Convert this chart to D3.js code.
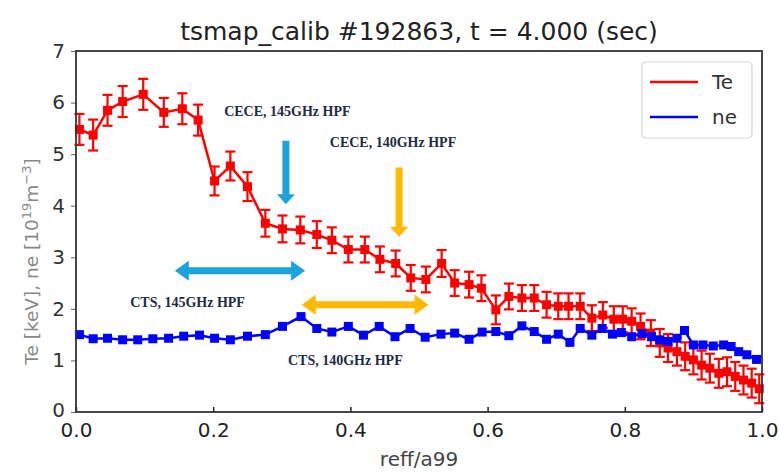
<!DOCTYPE html>
<html>
<head>
<meta charset="utf-8">
<script src="https://cdn.jsdelivr.net/npm/d3@7"></script>
<style>
  body { margin: 0; background: #fff; }
  svg { display: block; font-family: 'DejaVu Sans', sans-serif; }
  .note { font-family: 'Liberation Serif', serif; font-weight: bold; font-size: 14px; fill: #1d2b45; }
</style>
</head>
<body>
<svg id="chart" width="780" height="472"></svg>
<script>
// Te profile (red, with error bars)
var teR = [0.005, 0.025, 0.046, 0.068, 0.098, 0.128, 0.155, 0.178, 0.202, 0.225, 0.250, 0.276,
  0.301, 0.327, 0.351, 0.373, 0.397, 0.421, 0.443, 0.466, 0.488, 0.510, 0.533, 0.552, 0.573,
  0.591, 0.612, 0.631, 0.650, 0.668, 0.686, 0.703, 0.718, 0.735, 0.752, 0.768, 0.784, 0.797,
  0.810, 0.823, 0.838, 0.851, 0.863, 0.876, 0.888, 0.900, 0.912, 0.924, 0.937, 0.949, 0.961,
  0.973, 0.985, 0.996];
var teVal = [5.48, 5.37, 5.85, 6.02, 6.16, 5.81, 5.88, 5.66, 4.48, 4.77, 4.37, 3.66,
  3.55, 3.53, 3.44, 3.33, 3.15, 3.15, 2.96, 2.88, 2.60, 2.57, 2.88, 2.50, 2.47,
  2.40, 1.98, 2.24, 2.21, 2.21, 2.08, 2.05, 2.05, 2.05, 1.82, 1.88, 1.80, 1.80,
  1.76, 1.66, 1.53, 1.34, 1.24, 1.17, 1.08, 1.01, 0.91, 0.85, 0.75, 0.78, 0.69,
  0.62, 0.56, 0.45];
var teErr = [0.30, 0.30, 0.30, 0.30, 0.30, 0.28, 0.30, 0.30, 0.28, 0.28, 0.28, 0.26,
  0.26, 0.26, 0.26, 0.25, 0.25, 0.25, 0.25, 0.25, 0.25, 0.25, 0.26, 0.25, 0.25,
  0.25, 0.28, 0.25, 0.25, 0.25, 0.25, 0.25, 0.25, 0.25, 0.25, 0.25, 0.25, 0.25,
  0.25, 0.25, 0.25, 0.27, 0.27, 0.27, 0.27, 0.28, 0.28, 0.28, 0.28, 0.28, 0.28,
  0.28, 0.28, 0.28];

// ne profile (blue)
var neR = [0.005, 0.025, 0.046, 0.068, 0.090, 0.112, 0.135, 0.157, 0.180, 0.202, 0.225, 0.250,
  0.276, 0.301, 0.328, 0.351, 0.373, 0.397, 0.419, 0.442, 0.465, 0.487, 0.509, 0.532, 0.552,
  0.573, 0.592, 0.612, 0.631, 0.650, 0.668, 0.686, 0.703, 0.720, 0.735, 0.752, 0.767, 0.782,
  0.795, 0.810, 0.825, 0.839, 0.851, 0.863, 0.876, 0.887, 0.900, 0.914, 0.929, 0.944, 0.955,
  0.966, 0.978, 0.992];
var neVal = [1.50, 1.42, 1.43, 1.40, 1.40, 1.42, 1.43, 1.47, 1.49, 1.43, 1.40, 1.47,
  1.50, 1.66, 1.85, 1.62, 1.55, 1.66, 1.49, 1.66, 1.46, 1.62, 1.45, 1.51, 1.53,
  1.41, 1.55, 1.56, 1.48, 1.67, 1.56, 1.41, 1.51, 1.35, 1.62, 1.49, 1.62, 1.51,
  1.54, 1.46, 1.52, 1.46, 1.40, 1.37, 1.43, 1.58, 1.30, 1.30, 1.28, 1.30, 1.27,
  1.17, 1.11, 1.02];

var xTicks = [0.0, 0.2, 0.4, 0.6, 0.8, 1.0];
var yTicks = [0, 1, 2, 3, 4, 5, 6, 7];

// annotations in data units
var notes = [
  {text: 'CECE, 145GHz HPF', r: 0.216, v: 5.83},
  {text: 'CECE, 140GHz HPF', r: 0.370, v: 5.23},
  {text: 'CTS, 145GHz HPF', r: 0.079, v: 2.14},
  {text: 'CTS, 140GHz HPF', r: 0.309, v: 1.01}
];
var downArrows = [
  {r: 0.306, v0: 5.26, v1: 4.03, color: '#1aa3dc'},
  {r: 0.471, v0: 4.74, v1: 3.40, color: '#ffb901'}
];
var sideArrows = [
  {r0: 0.144, r1: 0.334, v: 2.74, color: '#1aa3dc'},
  {r0: 0.329, r1: 0.514, v: 2.08, color: '#ffb901'}
];

var margin = {left: 76, right: 18, top: 51, bottom: 60};
var W = 780, H = 472;
var svg = d3.select('#chart');
var x = d3.scaleLinear().domain([0, 1]).range([margin.left, W - margin.right]);
var y = d3.scaleLinear().domain([0, 7]).range([H - margin.bottom, margin.top]);

// title
svg.append('text').attr('x', (x(0) + x(1)) / 2).attr('y', 40)
  .attr('text-anchor', 'middle').attr('font-size', 25).attr('fill', '#222')
  .text('tsmap_calib #192863, t = 4.000 (sec)');

var plot = svg.append('g');

var te = teR.map(function(r, i) { return {r: r, v: teVal[i], e: teErr[i]}; });
var ne = neR.map(function(r, i) { return {r: r, v: neVal[i]}; });
var line = d3.line().x(function(d) { return x(d.r); }).y(function(d) { return y(d.v); });

// Te line, error bars, markers
plot.append('path').datum(te).attr('d', line)
  .attr('fill', 'none').attr('stroke', '#ff0000').attr('stroke-width', 2.5);
var eb = plot.append('g').attr('stroke', '#ff0000').attr('stroke-width', 2.2);
eb.selectAll('line.v').data(te).enter().append('line')
  .attr('x1', function(d) { return x(d.r); }).attr('x2', function(d) { return x(d.r); })
  .attr('y1', function(d) { return y(d.v - d.e); }).attr('y2', function(d) { return y(d.v + d.e); });
[-1, 1].forEach(function(s) {
  eb.selectAll('line.c' + s).data(te).enter().append('line')
    .attr('x1', function(d) { return x(d.r) - 5; }).attr('x2', function(d) { return x(d.r) + 5; })
    .attr('y1', function(d) { return y(d.v + s * d.e); }).attr('y2', function(d) { return y(d.v + s * d.e); });
});
plot.selectAll('rect.te').data(te).enter().append('rect')
  .attr('x', function(d) { return x(d.r) - 4.5; }).attr('y', function(d) { return y(d.v) - 4.5; })
  .attr('width', 9).attr('height', 9).attr('fill', '#ff0000');

// ne line + squares
plot.append('path').datum(ne).attr('d', line)
  .attr('fill', 'none').attr('stroke', '#0000ff').attr('stroke-width', 2.5);
plot.selectAll('rect.ne').data(ne).enter().append('rect')
  .attr('x', function(d) { return x(d.r) - 4.5; }).attr('y', function(d) { return y(d.v) - 4.5; })
  .attr('width', 9).attr('height', 9).attr('fill', '#0000ff');

// axes
var xAxis = d3.axisBottom(x).tickValues(xTicks).tickFormat(d3.format('.1f'))
  .tickSizeInner(-5).tickSizeOuter(0).tickPadding(11);
var gx = svg.append('g').attr('transform', 'translate(0,' + y(0) + ')').call(xAxis);
gx.selectAll('text').attr('font-size', 20).attr('fill', '#222').attr('font-family', 'DejaVu Sans');
gx.select('.domain').remove();
gx.selectAll('line').attr('stroke', '#222').attr('stroke-width', 1.5);

var yAxis = d3.axisLeft(y).tickValues(yTicks).tickFormat(d3.format('d'))
  .tickSizeInner(5).tickSizeOuter(0).tickPadding(6);
var gy = svg.append('g').attr('transform', 'translate(' + x(0) + ',0)').call(yAxis);
gy.selectAll('text').attr('font-size', 20).attr('fill', '#333').attr('font-family', 'DejaVu Sans')
  .attr('dy', function(d) { return d === 0 ? '0.2em' : '0.32em'; });
gy.select('.domain').remove();
gy.selectAll('line').attr('stroke', '#777').attr('stroke-width', 1.2);

// frame
svg.append('rect').attr('x', x(0)).attr('y', y(7))
  .attr('width', x(1) - x(0)).attr('height', y(0) - y(7))
  .attr('fill', 'none').attr('stroke', '#333').attr('stroke-width', 1.8);

// axis labels
svg.append('text').attr('x', (x(0) + x(1)) / 2).attr('y', 466)
  .attr('text-anchor', 'middle').attr('font-size', 20).attr('fill', '#444')
  .text('reff/a99');
var yl = svg.append('text').attr('transform', 'translate(38,' + ((y(0) + y(7)) / 2 + 30) + ') rotate(-90)')
  .attr('text-anchor', 'middle').attr('font-size', 18.5).attr('fill', '#888');
yl.append('tspan').text('Te [keV], ne [10');
yl.append('tspan').attr('dy', -7).attr('font-size', 13).text('19');
yl.append('tspan').attr('dy', 7).text('m');
yl.append('tspan').attr('dy', -7).attr('font-size', 13).text('\u22123');
yl.append('tspan').attr('dy', 7).text(']');

// legend
var lg = svg.append('g').attr('transform', 'translate(642,62)');
lg.append('rect').attr('width', 110).attr('height', 76).attr('rx', 4)
  .attr('fill', '#fff').attr('stroke', '#d8d8d8').attr('stroke-width', 1.2);
[{name: 'Te', color: '#ff0000'}, {name: 'ne', color: '#0000ff'}].forEach(function(s, i) {
  var yy = 20 + i * 35;
  lg.append('line').attr('x1', 8).attr('x2', 56).attr('y1', yy).attr('y2', yy)
    .attr('stroke', s.color).attr('stroke-width', 2.5);
  lg.append('text').attr('x', 70).attr('y', yy + 7).attr('font-size', 20).attr('fill', '#333').text(s.name);
});

// annotations
svg.selectAll('text.note').data(notes).enter().append('text').attr('class', 'note')
  .attr('x', function(d) { return x(d.r); }).attr('y', function(d) { return y(d.v); })
  .attr('dy', '0.35em').text(function(d) { return d.text; });

downArrows.forEach(function(a) {
  var cx = x(a.r), y0 = y(a.v0), y1 = y(a.v1);
  svg.append('path')
    .attr('d', 'M' + (cx - 3.5) + ',' + y0 + 'V' + (y1 - 10) + 'H' + (cx - 9) + 'L' + cx + ',' + y1 +
      'L' + (cx + 9) + ',' + (y1 - 10) + 'H' + (cx + 3.5) + 'V' + y0 + 'Z')
    .attr('fill', a.color);
});
sideArrows.forEach(function(a) {
  var x0 = x(a.r0), x1 = x(a.r1), cy = y(a.v);
  svg.append('path')
    .attr('d', 'M' + x0 + ',' + cy + 'L' + (x0 + 14) + ',' + (cy - 10) + 'V' + (cy - 3.5) +
      'H' + (x1 - 14) + 'V' + (cy - 10) + 'L' + x1 + ',' + cy + 'L' + (x1 - 14) + ',' + (cy + 10) +
      'V' + (cy + 3.5) + 'H' + (x0 + 14) + 'V' + (cy + 10) + 'Z')
    .attr('fill', a.color);
});
</script>
</body>
</html>
